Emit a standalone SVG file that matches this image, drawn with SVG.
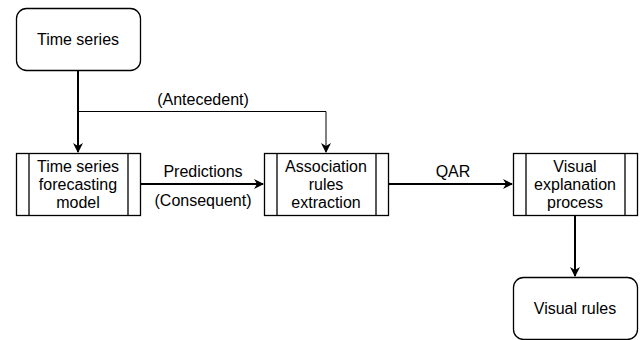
<svg xmlns="http://www.w3.org/2000/svg" width="641" height="340" viewBox="0 0 641 340">
<style>
.box{fill:#fff;stroke:#000;stroke-width:1.3}
.t{font-family:"Liberation Sans",Arial,sans-serif;font-size:16px;text-anchor:middle;fill:#000}
.thick{stroke:#000;stroke-width:2;fill:none}
.thin{stroke:#000;stroke-width:1;fill:none}
</style>
<defs>
<marker id="ah" viewBox="0 0 10 10" refX="9" refY="5" markerWidth="10" markerHeight="10" markerUnits="userSpaceOnUse" orient="auto">
<path d="M0,0 L10,5 L0,10 L3,5 Z" fill="#000"/>
</marker>
</defs>
<rect width="641" height="340" fill="#fff"/>
<g id="connectors">
<path class="thick" d="M78,70 V152" marker-end="url(#ah)"/>
<path class="thin" d="M78,111.5 H326 V152" marker-end="url(#ah)"/>
<path class="thick" d="M140,184 H263" marker-end="url(#ah)"/>
<path class="thick" d="M388,184 H512" marker-end="url(#ah)"/>
<path class="thick" d="M575,215 V276" marker-end="url(#ah)"/>
<text class="t" x="203" y="105">(Antecedent)</text>
<text class="t" x="203" y="177">Predictions</text>
<text class="t" x="203" y="206">(Consequent)</text>
<text class="t" x="453" y="177">QAR</text>
</g>
<g id="time-series">
<rect class="box" x="16.5" y="8.5" width="124" height="62" rx="10"/>
<text class="t" x="78" y="45">Time series</text>
</g>
<g id="forecasting-model">
<rect class="box" x="16.5" y="153.5" width="124" height="62"/>
<path class="box" d="M29,153.5 V215.5 M128,153.5 V215.5"/>
<text class="t" x="78" y="172">Time series</text>
<text class="t" x="78" y="190">forecasting</text>
<text class="t" x="78" y="208">model</text>
</g>
<g id="association-rules">
<rect class="box" x="264.5" y="153.5" width="124" height="62"/>
<path class="box" d="M277,153.5 V215.5 M376,153.5 V215.5"/>
<text class="t" x="326" y="172">Association</text>
<text class="t" x="326" y="190">rules</text>
<text class="t" x="326" y="208">extraction</text>
</g>
<g id="visual-explanation">
<rect class="box" x="513.5" y="153.5" width="124" height="62"/>
<path class="box" d="M526,153.5 V215.5 M625,153.5 V215.5"/>
<text class="t" x="575" y="172">Visual</text>
<text class="t" x="575" y="190">explanation</text>
<text class="t" x="575" y="208">process</text>
</g>
<g id="visual-rules">
<rect class="box" x="513.5" y="277.5" width="124" height="62" rx="10"/>
<text class="t" x="575" y="314">Visual rules</text>
</g>
</svg>
